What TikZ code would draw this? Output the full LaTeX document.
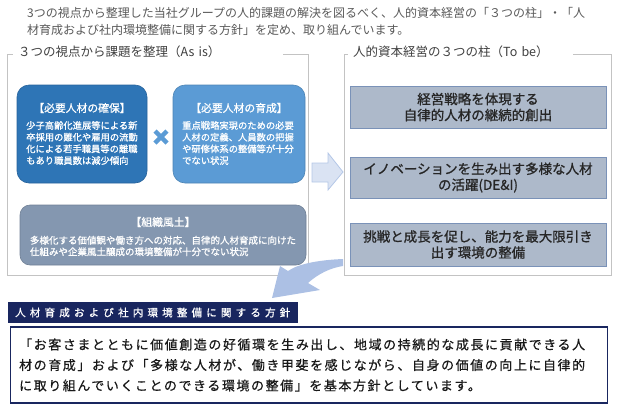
\documentclass[tikz,border=0pt]{standalone}
\usepackage{fontspec}
\setmainfont{Noto Sans CJK JP}
\newfontfamily\semi[FakeBold=1]{Noto Sans CJK JP}
\newfontfamily\spread[LetterSpace=12,FakeBold=0.6]{Noto Sans CJK JP}
\newfontfamily\spreadd[LetterSpace=40,FakeBold=0.8]{Noto Sans CJK JP}
\usepackage{tikz}
\definecolor{tx}{RGB}{89,89,89}
\definecolor{fr}{RGB}{195,195,195}
\definecolor{db}{RGB}{46,117,182}
\definecolor{lb}{RGB}{91,155,213}
\definecolor{gb}{RGB}{132,151,176}
\definecolor{pb}{RGB}{173,185,202}
\definecolor{pe}{RGB}{122,146,184}
\definecolor{ab}{RGB}{218,227,243}
\definecolor{ae}{RGB}{180,199,231}
\definecolor{cb}{RGB}{172,192,228}
\definecolor{nv}{RGB}{25,38,95}
\def\fsmall{\fontsize{9.3}{11.7}\selectfont}
\tikzset{
  intro/.style={anchor=west,align=left,inner sep=0pt,text=tx,font=\fontsize{12}{17}\selectfont},
  frm/.style={draw=fr,line width=1pt,inner sep=0pt},
  ttl/.style={fill=white,anchor=west,align=left,inner xsep=5pt,inner ysep=1pt,text=black!75,font=\fontsize{12.5}{15}\selectfont},
  rbox/.style={rounded corners=12pt,inner sep=0pt,line width=0.6pt},
  hd/.style={text=white,inner sep=2pt,font=\fontsize{10.8}{13}\selectfont\semi},
  bd/.style={text=white,align=left,inner sep=0pt,font=\fsmall\semi},
  pil/.style={fill=pb,draw=pe,line width=0.8pt,minimum width=256,align=center,text=black!85,font=\fontsize{13.5}{16}\selectfont\semi},
  hdr/.style={fill=nv,anchor=west,text=white,align=left,text width=276,inner xsep=7pt,minimum height=21,font=\fontsize{10.5}{12}\selectfont\spreadd},
  pbox/.style={draw=nv,line width=1.3pt,anchor=west,text width=580,inner xsep=8.5pt,minimum height=76,align=left,text=black!90,font=\fontsize{13}{20.5}\selectfont\spread}
}
\begin{document}
\begin{tikzpicture}[x=1pt,y=-1pt]
\useasboundingbox (0,0) rectangle (618,410);

\node[intro] (intro) at (27,21.5) {3つの視点から整理した当社グループの人的課題の解決を図るべく、人的資本経営の「３つの柱」・「人\\材育成および社内環境整備に関する方針」を定め、取り組んでいます。};

% two panels
\node[frm,minimum width=301,minimum height=221] (asis) at (157.5,164.5) {};
\node[ttl,text width=260] (asis-t) at (13,52) {３つの視点から課題を整理（As is）};
\node[frm,minimum width=267,minimum height=221] (tobe) at (477.5,164.5) {};
\node[ttl,text width=215] (tobe-t) at (348,52) {人的資本経営の３つの柱（To be）};

% as is
\node[rbox,fill=db,draw=db!85!black,minimum width=130,minimum height=98] (keep) at (82,134) {};
\node[hd] (keep-t) at (82,108) {【必要人材の確保】};
\node[bd] (keep-b) at (82,143) {少子高齢化進展等による新\\卒採用の難化や雇用の流動\\化による若手職員等の離職\\もあり職員数は減少傾向};

\node[rbox,fill=lb,draw=lb!85!black,minimum width=132,minimum height=98] (grow) at (239,134) {};
\node[hd] (grow-t) at (239,108) {【必要人材の育成】};
\node[bd] (grow-b) at (238,143) {重点戦略実現のための必要\\人材の定義、人員数の把握\\や研修体系の整備等が十分\\でない状況};

\draw[lb,line width=4.5pt] (155,131) -- (167,143) (155,143) -- (167,131);

\node[rbox,rounded corners=10pt,fill=gb,draw=gb!85!black,minimum width=286,minimum height=60] (cult) at (163,235) {};
\node[hd] (cult-t) at (163,222) {【組織風土】};
\node[bd,font=\fontsize{9.5}{11.5}\selectfont\semi] (cult-b) at (163,246) {多様化する価値観や働き方への対応、自律的人材育成に向けた\\仕組みや企業風土醸成の環境整備が十分でない状況};

% to be
\node[pil,minimum height=42] (p1) at (478,107) {経営戦略を体現する\\自律的人材の継続的創出};
\node[pil,minimum height=41] (p2) at (478,177.5) {イノベーションを生み出す多様な人材\\の活躍(DE\&I)};
\node[pil,minimum height=43] (p3) at (478,244.5) {挑戦と成長を促し、能力を最大限引き\\出す環境の整備};

% arrows
\filldraw[fill=ab,draw=ae,line width=0.8pt] (312,163) -- (328,163) -- (328,153) -- (343,172) -- (328,190) -- (328,182) -- (312,182) -- cycle;
\fill[cb] (343,259) .. controls (318,260) and (298,264) .. (288,271) -- (280,266) -- (272,298) -- (320,290) -- (308,283) .. controls (318,274) and (330,268) .. (343,266) -- cycle;

% policy
\node[hdr] (plc) at (8,312.5) {人材育成および社内環境整備に関する方針};
\node[pbox] (plc-b) at (10,365) {「お客さまとともに価値創造の好循環を生み出し、地域の持続的な成長に貢献できる人\\材の育成」および「多様な人材が、働き甲斐を感じながら、自身の価値の向上に自律的\\に取り組んでいくことのできる環境の整備」を基本方針としています。};
\end{tikzpicture}
\end{document}
